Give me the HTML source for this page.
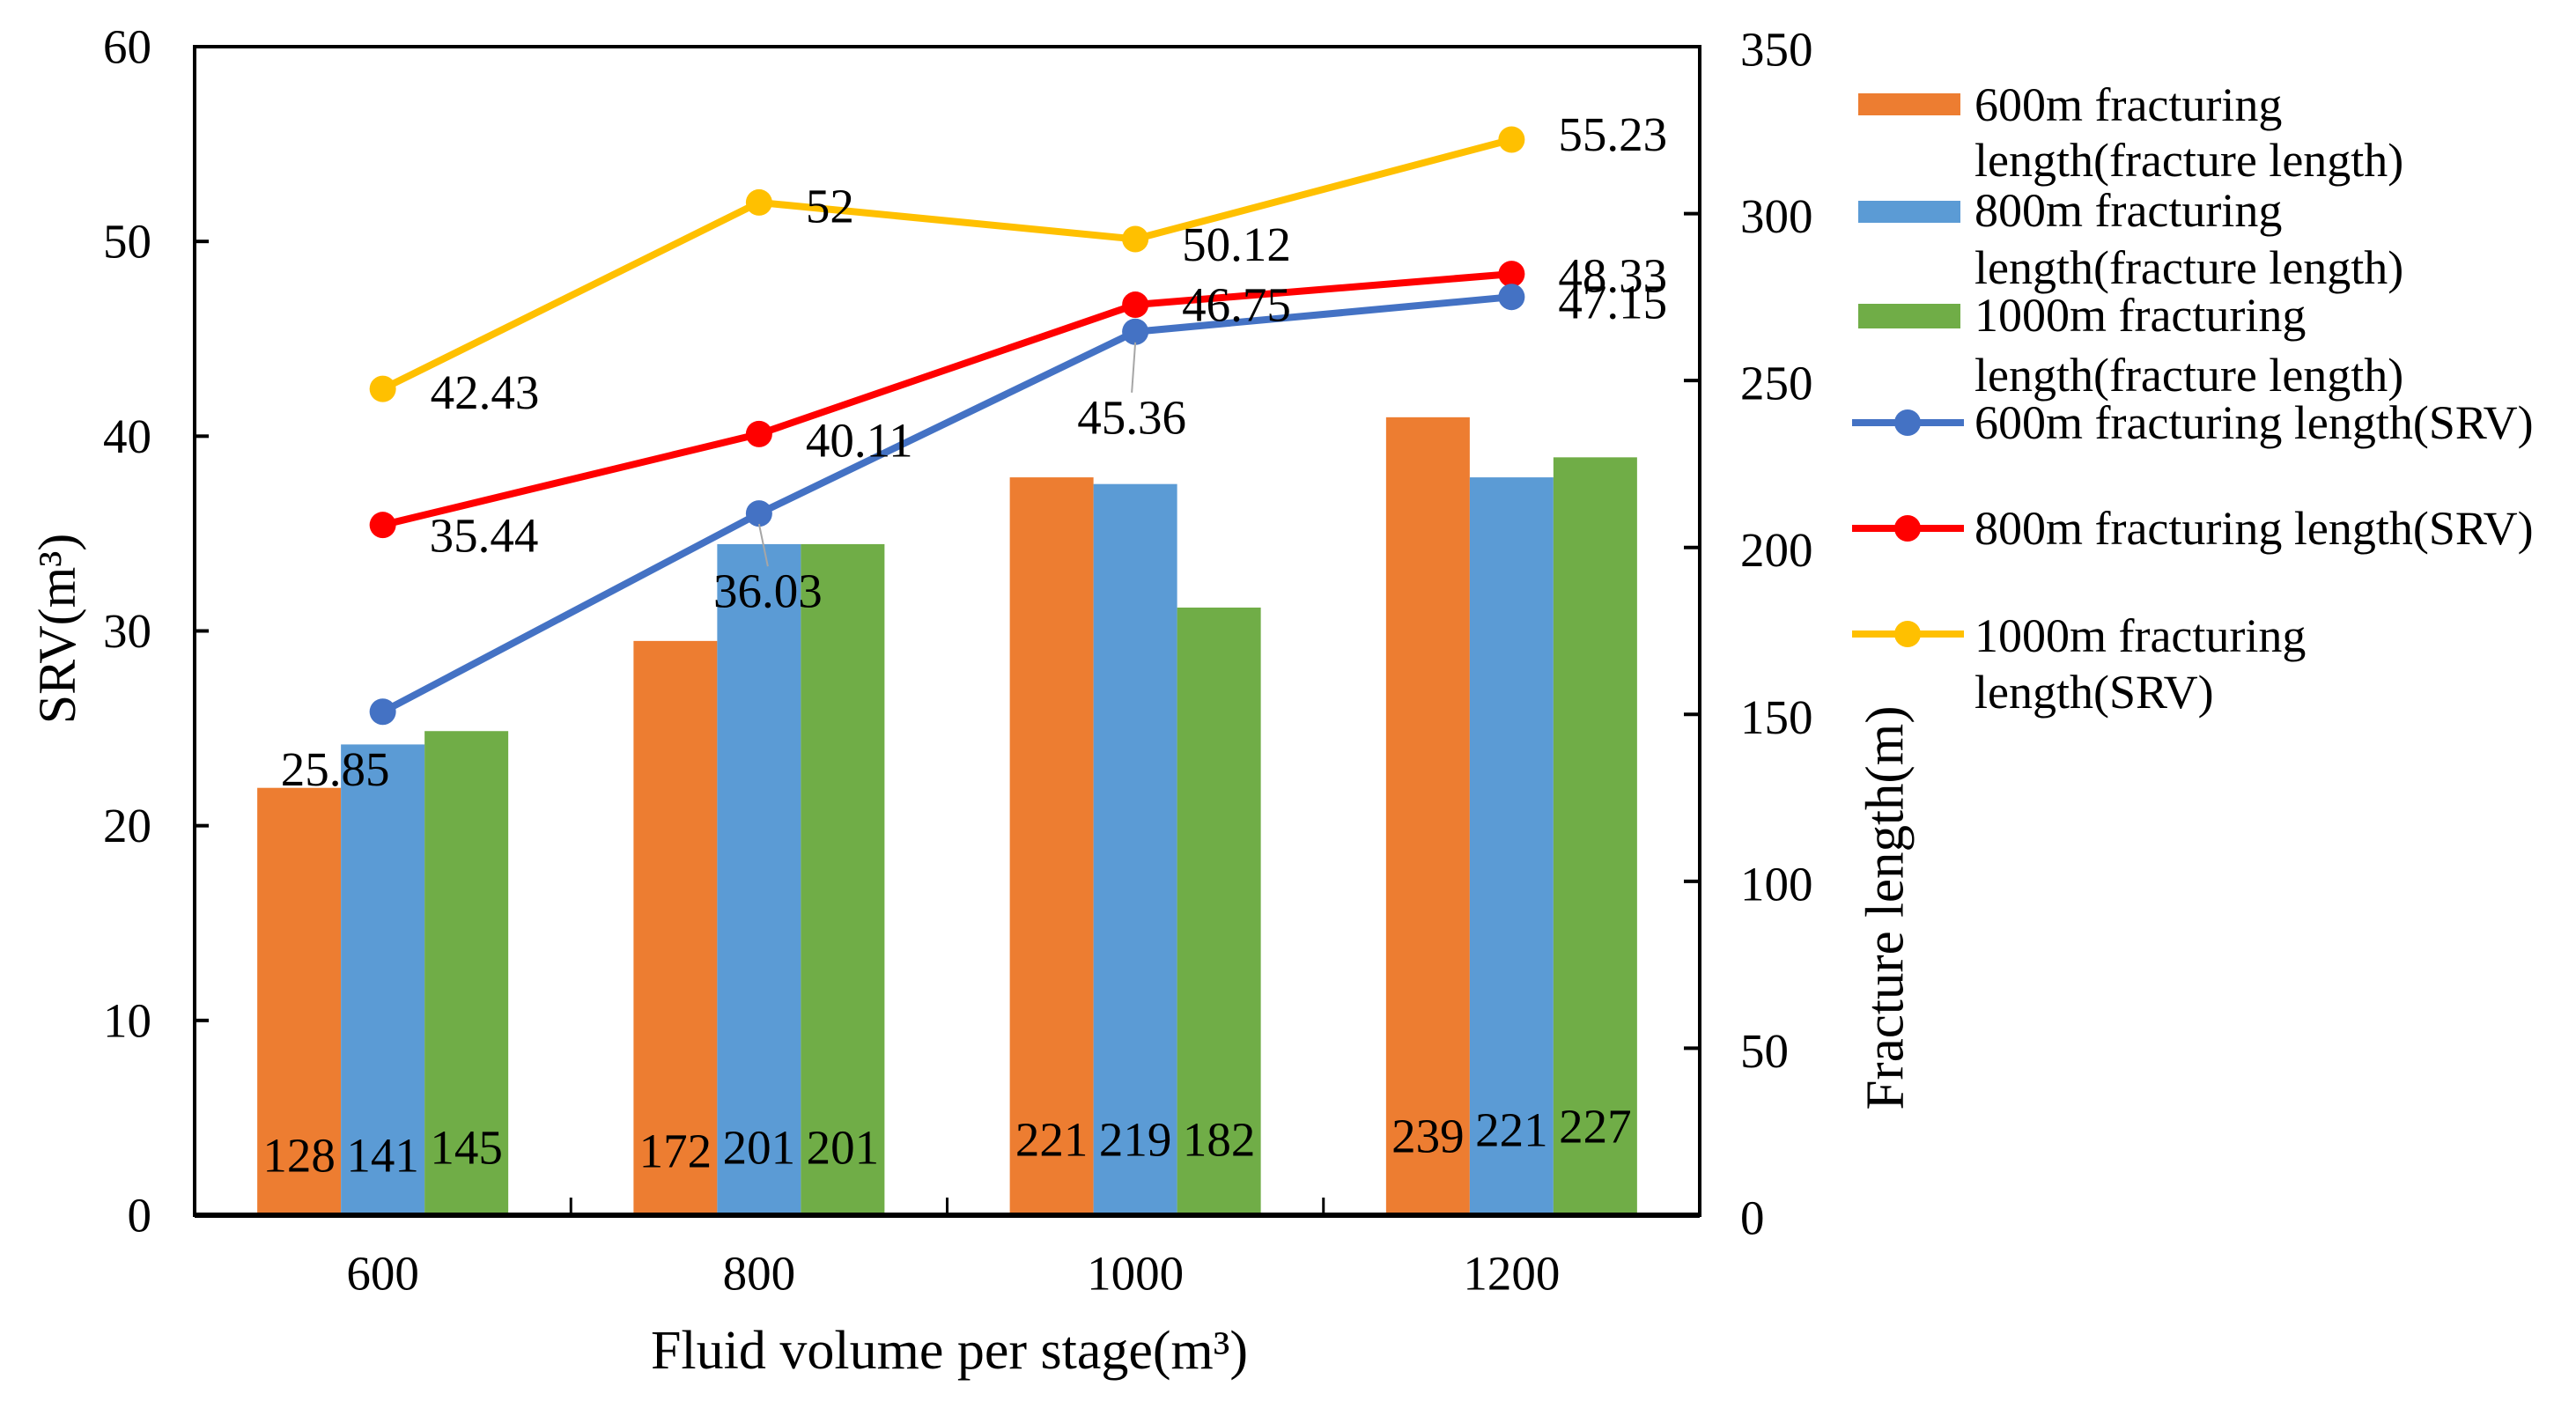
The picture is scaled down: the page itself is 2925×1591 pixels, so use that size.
<!DOCTYPE html>
<html><head><meta charset="utf-8"><style>
html,body{margin:0;padding:0;background:#fff;}
svg{display:block;}
.tick{font-family:"Liberation Serif",serif;font-size:55px;fill:#000;}
.ser{font-family:"Liberation Serif",serif;fill:#000;}
</style></head><body>
<svg id="chart" xmlns="http://www.w3.org/2000/svg" width="2925" height="1591" viewBox="0 0 2925 1591">
<g id="plot"></g>
</svg>
<script>
const categories = ["600","800","1000","1200"];
const barSeriesNames = ["600m fracturing length(fracture length)","800m fracturing length(fracture length)","1000m fracturing length(fracture length)"];
const bar600 = [128,172,221,239];
const bar800 = [141,201,219,221];
const bar1000 = [145,201,182,227];
const srv600 = [25.85,36.03,45.36,47.15];
const srv800 = [35.44,40.11,46.75,48.33];
const srv1000 = [42.43,52,50.12,55.23];
const leftTicks = [0,10,20,30,40,50,60];
const rightTicks = [0,50,100,150,200,250,300,350];

const NS="http://www.w3.org/2000/svg";
const g=document.getElementById('plot');
const L=221,R=1930,T=53,B=1380;
const catW=(R-L)/categories.length;
const xC=i=>L+catW*(i+0.5);
const yL=v=>B-(v/60)*(B-T);
const yR=v=>B-(v/350)*(B-T);
function el(tag,attrs,parent){const e=document.createElementNS(NS,tag);for(const k in attrs)e.setAttribute(k,attrs[k]);(parent||g).appendChild(e);return e;}
function txt(s,attrs,parent){const e=el('text',attrs,parent);e.textContent=s;return e;}

const barColors=["#ED7D31","#5B9BD5","#70AD47"];
const bars=[bar600,bar800,bar1000];
const bw=95;
const barLabelDy=[[68,73,86,90],[68,77,86,97],[77,77,86,101]];
bars.forEach((ser,s)=>{
  ser.forEach((v,i)=>{
    const x=xC(i)-1.5*bw+s*bw;
    const r=el('rect',{x:x,y:yR(v),width:bw,height:B-yR(v),fill:barColors[s]});
    
    
    const t=txt(String(v),{x:x+bw/2,y:B-barLabelDy[s][i],'text-anchor':'middle','dominant-baseline':'central','class':'ser','font-size':55});
    
    
  });
});

const frame=el('path',{d:`M${L},${T} H${R} V${B} H${L} Z`,fill:'none',stroke:'#000','stroke-width':4});


el('line',{x1:L,y1:B,x2:R,y2:B,stroke:'#000','stroke-width':6});
leftTicks.forEach(v=>{
  el('line',{x1:L,y1:yL(v),x2:L+16,y2:yL(v),stroke:'#000','stroke-width':4});
  const t=txt(String(v),{x:172,y:yL(v),'text-anchor':'end','dominant-baseline':'central','class':'tick'});
  
  
});
rightTicks.forEach(v=>{
  el('line',{x1:R-18,y1:yR(v),x2:R,y2:yR(v),stroke:'#000','stroke-width':4});
  const t=txt(String(v),{x:1976,y:yR(v)+3,'text-anchor':'start','dominant-baseline':'central','class':'tick'});
  
  
});
for(let i=1;i<categories.length;i++){el('line',{x1:L+catW*i,y1:B,x2:L+catW*i,y2:B-20,stroke:'#000','stroke-width':3});}
categories.forEach((c,i)=>{
  const t=txt(c,{x:xC(i),y:1446,'text-anchor':'middle','dominant-baseline':'central','class':'tick'});
  
  
});

const lineColors=["#4472C4","#FF0000","#FFC000"];
const lines=[srv600,srv800,srv1000];
const labOff=[
  [[-54,65],[10,88],[-4,97],[53,6]],
  [[53,12],[53,7],[53,0],[53,2]],
  [[54,4],[53,4],[53,6],[53,-6]]
];
const anchors=[["middle","middle","middle","start"],["start","start","start","start"],["start","start","start","start"]];
[1,0,2].forEach(s=>{
  const ser=lines[s];
  const pts=ser.map((v,i)=>xC(i)+','+yL(v)).join(' ');
  const pl=el('polyline',{points:pts,fill:'none',stroke:lineColors[s],'stroke-width':8,'stroke-linejoin':'round'});
  
  
  ser.forEach((v,i)=>{
    const c=el('circle',{cx:xC(i),cy:yL(v),r:15,fill:lineColors[s]});
    
    
  });
});
[0,1,2].forEach(s=>{
  lines[s].forEach((v,i)=>{
    const o=labOff[s][i];
    if(s===0&&(i===1||i===2)){el('line',{x1:xC(i),y1:yL(v)+12,x2:xC(i)+o[0],y2:yL(v)+o[1]-28,stroke:'#A6A6A6','stroke-width':2});}
    const t=txt(String(v),{x:xC(i)+o[0],y:yL(v)+o[1],'text-anchor':anchors[s][i],'dominant-baseline':'central','class':'tick'});
    
    
  });
});
</script>
<svg style="position:absolute;left:0;top:0" width="2925" height="1591">
<text class="ser" font-size="60" text-anchor="middle" dominant-baseline="central" transform="translate(65,714) rotate(-90)">SRV(m³)</text>
<text class="ser" font-size="61" text-anchor="middle" dominant-baseline="central" transform="translate(2141,1031) rotate(-90)">Fracture length(m)</text>
<text class="ser" font-size="62" text-anchor="middle" dominant-baseline="central" x="1078" y="1534">Fluid volume per stage(m³)</text>
<g class="ser" font-size="54">
 <g>
  <rect x="2110" y="106" width="116" height="25" fill="#ED7D31"/>
  <text x="2242" y="119" dominant-baseline="central">600m fracturing</text>
  <text x="2242" y="182" dominant-baseline="central">length(fracture length)</text></g>
 <g>
  <rect x="2110" y="228" width="116" height="25" fill="#5B9BD5"/>
  <text x="2242" y="239" dominant-baseline="central">800m fracturing</text>
  <text x="2242" y="304" dominant-baseline="central">length(fracture length)</text></g>
 <g>
  <rect x="2110" y="345" width="116" height="28" fill="#70AD47"/>
  <text x="2242" y="358" dominant-baseline="central">1000m fracturing</text>
  <text x="2242" y="426" dominant-baseline="central">length(fracture length)</text></g>
 <g>
  <line x1="2103" y1="480" x2="2230" y2="480" stroke="#4472C4" stroke-width="8"/>
  <circle cx="2166" cy="480" r="15" fill="#4472C4"/>
  <text x="2242" y="480" dominant-baseline="central">600m fracturing length(SRV)</text></g>
 <g>
  <line x1="2103" y1="600" x2="2230" y2="600" stroke="#FF0000" stroke-width="8"/>
  <circle cx="2166" cy="600" r="15" fill="#FF0000"/>
  <text x="2242" y="600" dominant-baseline="central">800m fracturing length(SRV)</text></g>
 <g>
  <line x1="2103" y1="720" x2="2230" y2="720" stroke="#FFC000" stroke-width="8"/>
  <circle cx="2166" cy="720" r="15" fill="#FFC000"/>
  <text x="2242" y="722" dominant-baseline="central">1000m fracturing</text>
  <text x="2242" y="786" dominant-baseline="central">length(SRV)</text></g>
</g>
</svg>
</body></html>
